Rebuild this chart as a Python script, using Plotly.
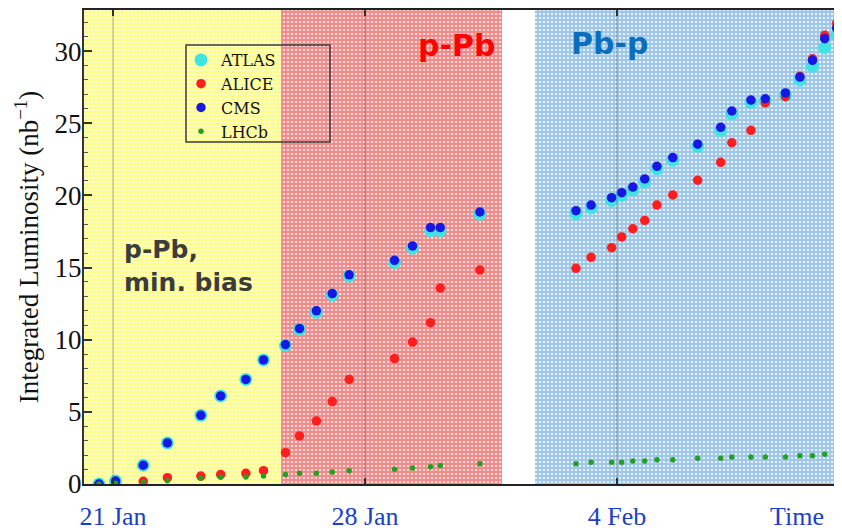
import plotly.graph_objects as go

# x = days since 21 Jan 2013
days = [-0.39, 0.07, 0.84, 1.51, 2.44, 2.99, 3.69, 4.18,
        4.79, 5.18, 5.65, 6.09, 6.56, 7.82, 8.32, 8.82, 9.09, 10.19,
        12.86, 13.28, 13.85, 14.13, 14.44, 14.77, 15.11, 15.55, 16.24,
        16.88, 17.19, 17.72, 18.12, 18.68, 19.08, 19.43, 19.77, 20.10]

atlas = [0.0, 0.2, 1.3, 2.85, 4.76, 6.1, 7.25, 8.6,
         9.6, 10.7, 11.9, 13.1, 14.4, 15.35, 16.35, 17.55, 17.55, 18.7,
         18.75, 19.15, 19.65, 20.0, 20.4, 20.95, 21.85, 22.45, 23.4,
         24.5, 25.65, 26.45, 26.55, 26.95, 28.0, 28.95, 30.25, 31.1]

alice = [0.0, 0.02, 0.19, 0.44, 0.55, 0.65, 0.74, 0.92,
         2.17, 3.33, 4.37, 5.71, 7.25, 8.69, 9.84, 11.18, 13.58, 14.83,
         14.95, 15.71, 16.38, 17.12, 17.69, 18.27, 19.33, 20.03, 21.05,
         22.29, 23.65, 24.51, 26.42, 26.84, 28.25, 29.47, 31.1, 31.92]

cms = [0.0, 0.2, 1.3, 2.85, 4.76, 6.1, 7.25, 8.6,
       9.66, 10.77, 12.0, 13.2, 14.5, 15.5, 16.5, 17.77, 17.77, 18.85,
       18.94, 19.33, 19.84, 20.19, 20.58, 21.14, 22.02, 22.62, 23.55,
       24.72, 25.85, 26.61, 26.7, 27.1, 28.2, 29.36, 30.86, 31.6]

lhcb = [0.0, 0.05, 0.1, 0.23, 0.39, 0.46, 0.48, 0.55,
        0.65, 0.74, 0.74, 0.83, 0.92, 1.02, 1.11, 1.2, 1.29, 1.41,
        1.41, 1.5, 1.5, 1.5, 1.59, 1.59, 1.68, 1.68, 1.78,
        1.78, 1.87, 1.87, 1.87, 1.87, 1.96, 1.96, 2.06, 2.06]

# running periods (days since 21 Jan)
period_names = ["p-Pb min. bias", "p-Pb", "Pb-p"]
period_start = [-1.0, 4.67, 11.72]
period_end = [4.67, 10.8, 21.0]

tick_days = [0, 7, 14]
tick_text = ["21 Jan", "28 Jan", "4 Feb"]

y_max = 32.85

# page body has an 8px margin: figure is laid out in page coords minus 8
PW, PH = 758, 474          # plot area size in px
PX0, PY1 = 84, 484         # plot left / bottom in page px


def px(xp):
    return (xp - PX0) / PW


def py(yp):
    return (PY1 - yp) / PH


fig = go.Figure()

pat_bg = ["#FFFFF0", "#FFDCDC", "#E6F0FA"]
pat_fg = ["#FFFF88", "#F28A8A", "#9EC6E8"]
for name, s, e, bg, fg in zip(period_names, period_start, period_end, pat_bg, pat_fg):
    fig.add_trace(go.Bar(
        x=[(s + e) / 2], y=[33], width=[e - s], base=0,
        marker=dict(color=bg, line=dict(width=0),
                    pattern=dict(shape="+", size=4, solidity=0.7,
                                 fgcolor=fg, bgcolor=bg, fillmode="replace")),
        showlegend=False, hoverinfo="skip", name=name))

series = [
    ("ATLAS", atlas, "#3EE3E3", 13),
    ("ALICE", alice, "#FF1E1E", 9.5),
    ("CMS", cms, "#1818E6", 9.5),
    ("LHCb", lhcb, "#23A023", 5.5),
]
for name, vals, col, size in series:
    fig.add_trace(go.Scatter(
        x=days, y=vals, mode="markers", name=name,
        marker=dict(color=col, size=size, line=dict(width=0))))

for t in tick_days:
    fig.add_shape(type="line", x0=t, x1=t, y0=0, y1=1, xref="x", yref="paper",
                  line=dict(color="rgba(90,90,90,0.35)", width=1.5), layer="above")

fig.add_annotation(x=0.24, y=15.1, xref="x", yref="y", text="p-Pb,<br>min. bias",
                   showarrow=False, xanchor="left", yanchor="middle", align="left",
                   font=dict(family="DejaVu Sans", size=25, color="#3C3C3C", weight="bold"))
fig.add_annotation(x=10.67, y=30.4, xref="x", yref="y", text="p-Pb",
                   showarrow=False, xanchor="right", yanchor="middle",
                   font=dict(family="DejaVu Sans", size=30, color="#FF0000", weight="bold"))
fig.add_annotation(x=12.67, y=30.5, xref="x", yref="y", text="Pb-p",
                   showarrow=False, xanchor="left", yanchor="middle",
                   font=dict(family="DejaVu Sans", size=30, color="#0A6EBD", weight="bold"))
fig.add_annotation(x=19.0, y=py(517), xref="x", yref="paper", text="Time",
                   showarrow=False, xanchor="center", yanchor="middle",
                   font=dict(family="Liberation Serif", size=26, color="#1A40C8"))

fig.add_shape(type="rect", xref="paper", yref="paper",
              x0=px(186), x1=px(330), y0=py(142), y1=py(45),
              line=dict(color="#3A3A3A", width=1.5), layer="above")

fig.update_layout(
    width=834, height=523,
    margin=dict(l=76, r=0, t=2, b=47, autoexpand=False),
    paper_bgcolor="white", plot_bgcolor="white",
    barmode="overlay", bargap=0,
    showlegend=True,
    legend=dict(x=px(181), y=py(43), xanchor="left", yanchor="top",
                bgcolor="rgba(0,0,0,0)", borderwidth=0,
                font=dict(family="DejaVu Serif", size=16, color="#111111"),
                tracegroupgap=0, itemwidth=30),
    xaxis=dict(range=[-0.806, 20.25], tickvals=tick_days, ticktext=tick_text,
               automargin=False,
               ticks="inside", ticklen=6, tickwidth=1.5, tickcolor="#222",
               showgrid=False, zeroline=False,
               showline=True, linecolor="#222", linewidth=2, mirror="ticks",
               ticklabelstandoff=8,
               tickfont=dict(family="Liberation Serif", size=26, color="#1A40C8")),
    yaxis=dict(range=[0, y_max], tickvals=[0, 5, 10, 15, 20, 25, 30],
               automargin=False,
               ticks="inside", ticklen=8, tickwidth=1.5, tickcolor="#333",
               minor=dict(dtick=1, ticks="inside", ticklen=4, tickcolor="#555", tickwidth=1),
               showgrid=False, zeroline=False,
               showline=True, linecolor="#333", linewidth=2,
               ticklabelstandoff=-5,
               tickfont=dict(family="Liberation Serif", size=27, color="#111"),
               title=dict(text="Integrated Luminosity (nb<sup>−1</sup>)", standoff=8,
                          font=dict(family="Liberation Serif", size=27, color="#111"))),
)

fig.write_html("out.html")
